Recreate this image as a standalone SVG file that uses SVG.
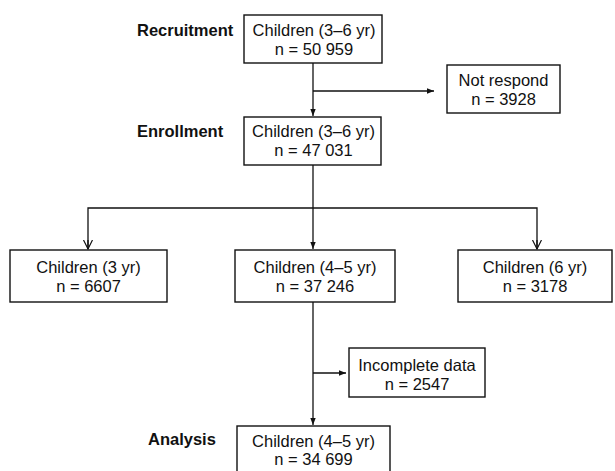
<svg xmlns="http://www.w3.org/2000/svg" width="615" height="471" viewBox="0 0 615 471">
<defs>
<marker id="fill" markerWidth="8" markerHeight="8" refX="7" refY="3.5" orient="auto" markerUnits="userSpaceOnUse">
<path d="M0,0.8 L7,3.5 L0,6.2 Z" fill="#111"/>
</marker>
<marker id="open" markerWidth="14" markerHeight="14" refX="9" refY="5" orient="auto" markerUnits="userSpaceOnUse">
<path d="M0,0.5 L9,5 L0,9.5" fill="none" stroke="#111" stroke-width="1.2"/>
</marker>
</defs>
<style>
.box{fill:#fff;stroke:#111;stroke-width:1.4}
.t{font-family:"Liberation Sans",Arial,sans-serif;font-size:16.5px;fill:#111;text-anchor:middle}
.lab{font-family:"Liberation Sans",Arial,sans-serif;font-size:16.5px;font-weight:bold;fill:#111}
.c{fill:none;stroke:#111;stroke-width:1.3}
</style>
<rect width="615" height="471" fill="#fff"/>
<g id="connectors">
<path class="c" d="M313,63 V116" marker-end="url(#fill)"/>
<path class="c" d="M313,91 H434" marker-end="url(#fill)"/>
<path class="c" d="M313,165 V249" marker-end="url(#fill)"/>
<path class="c" d="M88,249 V208 H537 V249"/>
<path class="c" d="M88,240 V249" marker-end="url(#open)"/>
<path class="c" d="M537,240 V249" marker-end="url(#open)"/>
<path class="c" d="M313,302 V425" marker-end="url(#fill)"/>
<path class="c" d="M313,373 H346" marker-end="url(#fill)"/>
</g>
<g id="label-recruitment"><text class="lab" x="137" y="36">Recruitment</text></g>
<g id="label-enrollment"><text class="lab" x="137" y="137">Enrollment</text></g>
<g id="label-analysis"><text class="lab" x="148" y="445">Analysis</text></g>
<g id="recruitment">
<rect class="box" x="244" y="15" width="138" height="48"/>
<text class="t" x="314" y="36">Children (3–6 yr)</text>
<text class="t" x="314" y="54.5">n = 50 959</text>
</g>
<g id="not-respond">
<rect class="box" x="447" y="65" width="113" height="48"/>
<text class="t" x="503.5" y="86">Not respond</text>
<text class="t" x="503.5" y="105">n = 3928</text>
</g>
<g id="enrollment">
<rect class="box" x="244" y="117" width="137" height="48"/>
<text class="t" x="313.5" y="137">Children (3–6 yr)</text>
<text class="t" x="313.5" y="155.5">n = 47 031</text>
</g>
<g id="children-3">
<rect class="box" x="10" y="250" width="157" height="52"/>
<text class="t" x="88.5" y="273">Children (3 yr)</text>
<text class="t" x="88.5" y="291.5">n = 6607</text>
</g>
<g id="children-45">
<rect class="box" x="235" y="250" width="160" height="52"/>
<text class="t" x="315" y="273">Children (4–5 yr)</text>
<text class="t" x="315" y="291.5">n = 37 246</text>
</g>
<g id="children-6">
<rect class="box" x="458" y="250" width="154" height="52"/>
<text class="t" x="535" y="273">Children (6 yr)</text>
<text class="t" x="535" y="291.5">n = 3178</text>
</g>
<g id="incomplete">
<rect class="box" x="349" y="348" width="136" height="49"/>
<text class="t" x="417" y="371">Incomplete data</text>
<text class="t" x="417" y="390">n = 2547</text>
</g>
<g id="analysis">
<rect class="box" x="237" y="426" width="153" height="48"/>
<text class="t" x="313.5" y="447">Children (4–5 yr)</text>
<text class="t" x="313.5" y="465">n = 34 699</text>
</g>
</svg>
